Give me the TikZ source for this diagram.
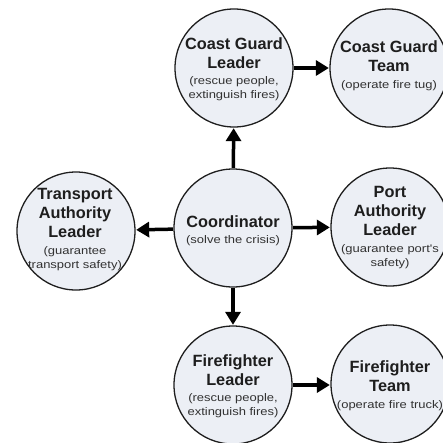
\documentclass[tikz,border=0pt]{standalone}
\usepackage{fontspec}
\setmainfont{Liberation Sans}
\newfontfamily\smallf[FakeStretch=1.18]{Liberation Sans}
\usetikzlibrary{arrows.meta}
\definecolor{cfill}{RGB}{236,239,245}
\definecolor{cline}{RGB}{30,30,30}
\definecolor{stext}{RGB}{50,50,50}
\newcommand{\tline}[1]{{\bfseries #1}}
\newcommand{\sline}[1]{{\smallf\fontsize{11}{13}\selectfont\color{stext}#1}}
\begin{document}
\begin{tikzpicture}[x=1pt,y=-1pt,
  cnode/.style={circle,draw=cline,fill=cfill,line width=1.3pt,minimum size=118pt,inner sep=0pt},
  txt/.style={align=center,inner sep=0pt,font=\fontsize{16.3}{19}\selectfont,text=cline},
  arr/.style={line width=3.5pt,draw=black,-{Triangle[width=15pt,length=13pt]},shorten <=0.5pt,shorten >=0.5pt}]
\useasboundingbox (0,0) rectangle (443,442);
\node[cnode] (cgl) at (234,68) {};
\node[cnode] (cgt) at (389,68) {};
\node[cnode] (tal) at (76,231) {};
\node[cnode] (coord) at (233,228) {};
\node[cnode] (pal) at (390,227) {};
\node[cnode] (ffl) at (233,385) {};
\node[cnode] (fft) at (390,384) {};

\node[txt] (cglt) at (234,69) {\tline{Coast Guard}\\\tline{Leader}\\[-3pt]\sline{(rescue people,}\\[-5pt]\sline{extinguish fires)}};
\node[txt] (cgtt) at (389,66) {\tline{Coast Guard}\\\tline{Team}\\[-2pt]\sline{(operate fire tug)}};
\node[txt] (talt) at (75,230) {\tline{Transport}\\\tline{Authority}\\\tline{Leader}\\[-2pt]\sline{(guarantee}\\[-5pt]\sline{transport safety)}};
\node[txt] (coordt) at (233,231) {\tline{Coordinator}\\[-3pt]\sline{(solve the crisis)}};
\node[txt] (palt) at (390,228) {\tline{Port}\\\tline{Authority}\\\tline{Leader}\\[-2pt]\sline{(guarantee port's}\\[-5pt]\sline{safety)}};
\node[txt] (fflt) at (233,386) {\tline{Firefighter}\\\tline{Leader}\\[-3pt]\sline{(rescue people,}\\[-5pt]\sline{extinguish fires)}};
\node[txt] (fftt) at (390,386) {\tline{Firefighter}\\\tline{Team}\\[-2pt]\sline{(operate fire truck)}};

\draw[arr] (coord) -- (cgl);
\draw[arr] (coord) -- (tal);
\draw[arr] (coord) -- (pal);
\draw[arr] (coord) -- (ffl);
\draw[arr] (cgl) -- (cgl -| cgt.west);
\draw[arr] (ffl) -- (ffl -| fft.west);
\end{tikzpicture}
\end{document}
